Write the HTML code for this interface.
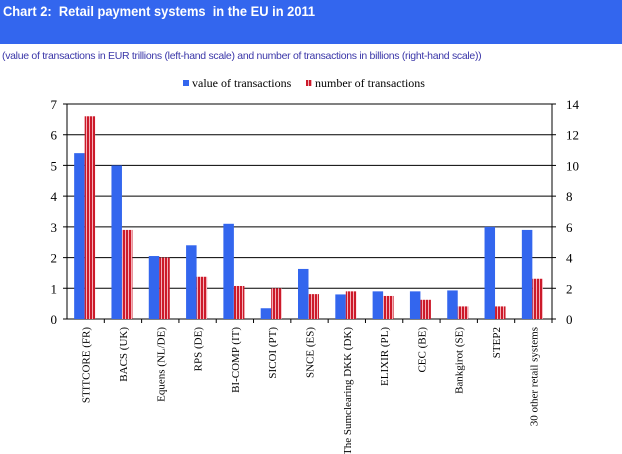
<!DOCTYPE html>
<html><head><meta charset="utf-8"><style>
body{margin:0;width:622px;height:454px;background:#fff;overflow:hidden;position:relative;font-family:"Liberation Sans",sans-serif}
#banner{position:absolute;left:0;top:0;width:622px;height:44px;background:#3366ee}
#title{position:absolute;left:3px;top:3px;color:#fff;font-weight:bold;font-size:14px;transform:scaleX(0.92);transform-origin:left}
#sub{position:absolute;left:2px;top:50px;color:#3a36a8;font-size:10.5px;letter-spacing:-0.3px;white-space:nowrap}
svg{position:absolute;left:0;top:0}
</style></head><body>
<div id="banner"></div>
<div id="title">Chart 2:&nbsp; Retail payment systems&nbsp; in the EU in 2011</div>
<div id="sub">(value of transactions in EUR trillions (left-hand scale) and number of transactions in billions (right-hand scale))</div>
<svg id="chart" width="622" height="454">
<defs><pattern id="stripes" width="3" height="10" patternUnits="userSpaceOnUse"><rect width="3" height="10" fill="#f4b0b8"/><rect width="2" height="10" fill="#cc1a2a"/></pattern></defs>
</svg>
<script>
const categories=["STITCORE (FR)","BACS (UK)","Equens (NL/DE)","RPS (DE)","BI-COMP (IT)","SICOI (PT)","SNCE (ES)","The Sumclearing DKK (DK)","ELIXIR (PL)","CEC (BE)","Bankgirot (SE)","STEP2","30 other retail systems"];
const valueSeries=[5.4,5.0,2.05,2.4,3.1,0.35,1.63,0.8,0.9,0.9,0.93,3.0,2.9];
const numberSeries=[13.2,5.8,4.0,2.75,2.15,2.0,1.62,1.8,1.5,1.25,0.82,0.82,2.62];
const leftTicks=[0,1,2,3,4,5,6,7];
const rightTicks=[0,2,4,6,8,10,12,14];
const svg=document.getElementById('chart');const NS='http://www.w3.org/2000/svg';
const X0=67,X1=552,Y0=319,Y1=104;
const yL=v=>Y0-(v/7)*(Y0-Y1);const yR=v=>Y0-(v/14)*(Y0-Y1);
const band=(X1-X0)/categories.length;
function mk(t,a,p){const e=document.createElementNS(NS,t);for(const k in a)e.setAttribute(k,a[k]);(p||svg).appendChild(e);return e;}
leftTicks.forEach(v=>{
 const l=mk('line',{x1:X0-4,x2:X1,y1:yL(v),y2:yL(v),stroke:'#000','stroke-width':1});
 
 
 const t=mk('text',{x:X0-10,y:yL(v)+5,'text-anchor':'end','font-family':'Liberation Serif, serif','font-size':13});
 t.textContent=v;
 
 
});
rightTicks.forEach(v=>{
 const t=mk('text',{x:X1+14,y:yR(v)+5,'font-family':'Liberation Serif, serif','font-size':13});
 t.textContent=v;
 
 
 const l=mk('line',{x1:X1,x2:X1+4,y1:yR(v),y2:yR(v),stroke:'#000'});
 
 
});
let ax=mk('line',{x1:X0,x2:X0,y1:Y1,y2:Y0,stroke:'#000'});


ax=mk('line',{x1:X1,x2:X1,y1:Y1,y2:Y0,stroke:'#000'});


categories.forEach((c,i)=>{
 const cx=X0+band*i+band/2;const bw=10.5;
 const tk=mk('line',{x1:X0+band*(i+1),x2:X0+band*(i+1),y1:Y0,y2:Y0+4,stroke:'#000'});
 
 
 const b=mk('rect',{x:cx-bw-1,y:yL(valueSeries[i]),width:bw,height:Y0-yL(valueSeries[i]),fill:'#3366ee'});
 
 
 const r=mk('rect',{x:cx-1,y:yR(numberSeries[i]),width:bw,height:Y0-yR(numberSeries[i]),fill:'url(#stripes)'});
 
 
 const t=mk('text',{x:0,y:0,'text-anchor':'end','font-family':'Liberation Serif, serif','font-size':11,transform:`translate(${cx+4},${Y0+8}) rotate(-90)`});
 t.textContent=c;
 
 
});
const lg=mk('g',{});


let s=mk('rect',{x:183,y:80,width:6,height:6,fill:'#3366ee'},lg);


let t=mk('text',{x:192,y:87,'font-family':'Liberation Serif, serif','font-size':12},lg);t.textContent='value of transactions';


s=mk('rect',{x:306,y:80,width:6,height:6,fill:'url(#stripes)'},lg);


t=mk('text',{x:315,y:87,'font-family':'Liberation Serif, serif','font-size':12},lg);t.textContent='number of transactions';


</script>
</body></html>
